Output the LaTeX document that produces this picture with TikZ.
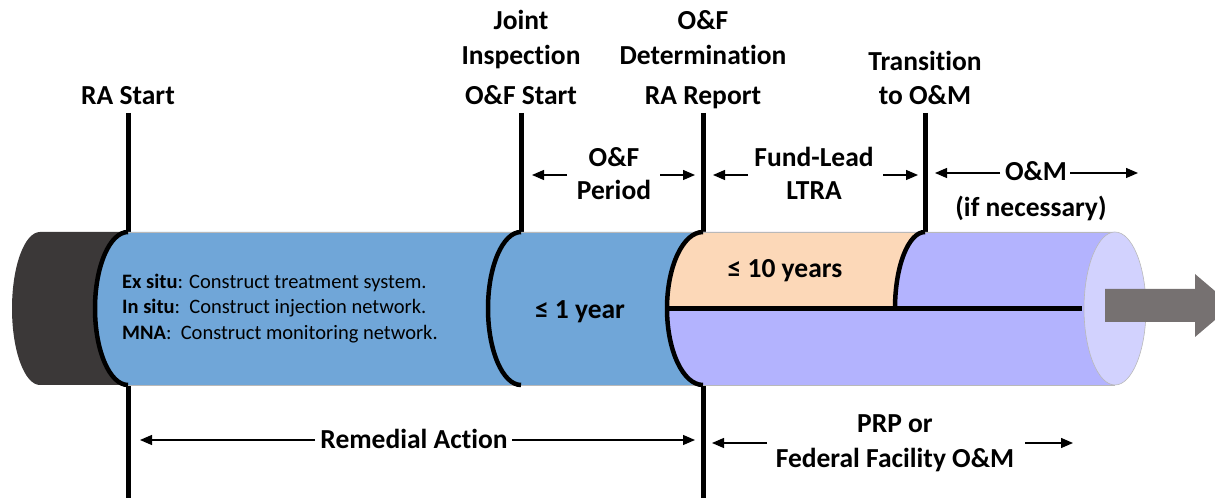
\documentclass[tikz,border=0pt]{standalone}
\usepackage{fontspec}
\setmainfont{Carlito}[Ligatures=NoCommon]
\usetikzlibrary{arrows.meta}
\definecolor{capdark}{HTML}{3B3838}
\definecolor{rablue}{HTML}{70A6D8}
\definecolor{ltrapeach}{HTML}{FCD8B8}
\definecolor{omviolet}{HTML}{B3B3FE}
\definecolor{omcap}{HTML}{D2D2FE}
\definecolor{flowgray}{HTML}{767171}
\begin{document}
\begin{tikzpicture}[x=1pt,y=1pt,
  lbl/.style={font=\bfseries\fontsize{27.5}{32}\selectfont, inner sep=0pt, anchor=base},
  body/.style={font=\fontsize{20.5}{24}\selectfont, inner sep=0pt, anchor=base west},
  milestone/.style={line width=5pt},
  seam/.style={line width=4.5pt},
  span/.style={line width=1.3pt, -{Triangle[length=12pt,width=10pt]}},
  rim/.style={draw=gray!55, line width=0.6pt},
]
\useasboundingbox (0,0) rectangle (1215,498);

% milestone posts (behind the pipe)
\coordinate (raS) at (128,385);  \coordinate (raSb) at (128,0);
\coordinate (ofS) at (521,385);  \coordinate (ofSb) at (521,266);
\coordinate (raR) at (703,385);  \coordinate (raRb) at (703,0);
\coordinate (trn) at (925,385);  \coordinate (trnb) at (925,266);
\draw[milestone] (raS) -- (raSb);
\draw[milestone] (ofS) -- (ofSb);
\draw[milestone] (raR) -- (raRb);
\draw[milestone] (trn) -- (trnb);

% pipe segments
\fill[capdark] (40,266) arc[start angle=90,end angle=270,x radius=28,y radius=76.5] -- (130,113) -- (130,266) -- cycle;
\fill[rablue] (128,266) arc[start angle=90,end angle=270,x radius=33,y radius=76.5]
  -- (703,113) arc[start angle=270,end angle=90,x radius=36,y radius=76.5] -- cycle;
\fill[omviolet] (703,266) arc[start angle=90,end angle=270,x radius=36,y radius=76.5]
  -- (1115,113) -- (1115,266) -- cycle;
\fill[ltrapeach] (703,266) arc[start angle=90,end angle=180,x radius=36,y radius=76.5]
  -- (895,189.5) arc[start angle=180,end angle=90,x radius=30,y radius=76.5] -- cycle;
\draw[rim] (128,266) -- (1115,266);
\draw[rim] (128,113) -- (1115,113);
\path[rim, fill=omcap] (1115,189.5) ellipse[x radius=31,y radius=76.5];

% seams between phases
\draw[seam] (128,266) arc[start angle=90,end angle=270,x radius=33,y radius=76.5];
\draw[seam] (521,266) arc[start angle=90,end angle=270,x radius=33,y radius=76.5];
\draw[seam] (703,266) arc[start angle=90,end angle=270,x radius=36,y radius=76.5];
\draw[seam] (925,266) arc[start angle=90,end angle=180,x radius=30,y radius=76.5];
\coordinate (splitL) at (667,189.5); \coordinate (splitR) at (1082,189.5);
\draw[seam] (splitL) -- (splitR);

% flow arrow out of the pipe
\fill[flowgray] (1105,209) -- (1195,209) -- (1195,224) -- (1232,192.5) -- (1195,161)
  -- (1195,176) -- (1105,176) -- cycle;

% milestone labels
\node[lbl] (lRA) at (128,393) {RA Start};
\node[lbl] (lJ1) at (521,468) {Joint};
\node[lbl] (lJ2) at (521,433) {Inspection};
\node[lbl] (lJ3) at (521,393) {O\&F Start};
\node[lbl] (lD1) at (703,468) {O\&F};
\node[lbl] (lD2) at (703,433) {Determination};
\node[lbl] (lD3) at (703,393) {RA Report};
\node[lbl] (lT1) at (925,427) {Transition};
\node[lbl] (lT2) at (925,393) {to O\&M};

% period labels and spans
\node[lbl] (pOF1) at (614,331) {O\&F};
\node[lbl] (pOF2) at (614,298) {Period};
\node[lbl] (pFL1) at (814,331) {Fund-Lead};
\node[lbl] (pFL2) at (814,298) {LTRA};
\node[lbl] (pOM1) at (1036,317) {O\&M};
\node[lbl] (pOM2) at (1031,281) {(if necessary)};
\coordinate (a1) at (567,323); \coordinate (a1t) at (532,323);
\coordinate (a2) at (660,323); \coordinate (a2t) at (695,323);
\coordinate (a3) at (748,323); \coordinate (a3t) at (713,323);
\coordinate (a4) at (883,323); \coordinate (a4t) at (918,323);
\coordinate (a5) at (1000,325); \coordinate (a5t) at (935,325);
\coordinate (a6) at (1070,325); \coordinate (a6t) at (1138,325);
\draw[span] (a1) -- (a1t);
\draw[span] (a2) -- (a2t);
\draw[span] (a3) -- (a3t);
\draw[span] (a4) -- (a4t);
\draw[span] (a5) -- (a5t);
\draw[span] (a6) -- (a6t);

% text inside the pipe
\node[body] (t1) at (122,209) {\textbf{Ex situ}: Construct treatment system.};
\node[body] (t2) at (122,184) {\textbf{In situ}:\ \ Construct injection network.};
\node[body] (t3) at (122,158) {\textbf{MNA}:\ \ Construct monitoring network.};
\node[lbl] (y1) at (580,179) {≤ 1 year};
\node[lbl] (y10) at (785,220) {≤ 10 years};

% bottom spans
\node[lbl] (bRA) at (414,50) {Remedial Action};
\node[lbl] (bP1) at (895,65) {PRP or};
\node[lbl] (bP2) at (895,31) {Federal Facility O\&M};
\coordinate (b1) at (315,58); \coordinate (b1t) at (140,58);
\coordinate (b2) at (512,58); \coordinate (b2t) at (695,58);
\coordinate (b3) at (767,55); \coordinate (b3t) at (712,55);
\coordinate (b4) at (1025,55); \coordinate (b4t) at (1073,55);
\draw[span] (b1) -- (b1t);
\draw[span] (b2) -- (b2t);
\draw[span] (b3) -- (b3t);
\draw[span] (b4) -- (b4t);
\end{tikzpicture}
\end{document}
